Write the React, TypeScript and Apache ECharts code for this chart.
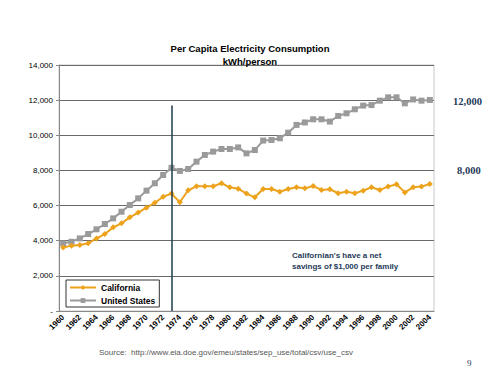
import React, { useEffect, useRef } from "react";
import * as echarts from "echarts";

const years: string[] = [
  "1960","1961","1962","1963","1964","1965","1966","1967","1968","1969",
  "1970","1971","1972","1973","1974","1975","1976","1977","1978","1979",
  "1980","1981","1982","1983","1984","1985","1986","1987","1988","1989",
  "1990","1991","1992","1993","1994","1995","1996","1997","1998","1999",
  "2000","2001","2002","2003","2004",
];

const california: number[] = [
  3610, 3720, 3760, 3850, 4130, 4380, 4760, 4990, 5330, 5600,
  5880, 6160, 6500, 6680, 6190, 6870, 7100, 7100, 7100, 7270,
  7040, 6960, 6680, 6470, 6940, 6940, 6790, 6940, 7040, 6980,
  7110, 6890, 6930, 6700, 6790, 6700, 6850, 7040, 6890, 7080,
  7210, 6750, 7040, 7080, 7230,
];

const unitedStates: number[] = [
  3850, 3940, 4130, 4380, 4650, 4950, 5270, 5650, 6030, 6410,
  6850, 7270, 7740, 8150, 7970, 8080, 8500, 8880, 9070, 9220,
  9220, 9310, 8970, 9160, 9700, 9730, 9830, 10150, 10590, 10730,
  10910, 10910, 10780, 11100, 11250, 11480, 11690, 11720, 11970, 12160,
  12160, 11820, 12040, 11970, 12010,
];

const markerYear = "1973";
const markerTop = 11700;

const rightLabels: string[] = ["12,000", "8,000"];
const noteLines: string[] = ["Californian's have a net", "savings of $1,000 per family"];
const sourceText = "Source:  http://www.eia.doe.gov/emeu/states/sep_use/total/csv/use_csv";

export default function App() {
  const ref = useRef<HTMLDivElement>(null);

  useEffect(() => {
    if (!ref.current) return;
    const chart = echarts.init(ref.current, undefined, { renderer: "svg" });
    const sans = "'Liberation Sans', Arial, sans-serif";
    const serif = "'Liberation Serif', 'Times New Roman', serif";
    chart.setOption({
      animation: false,
      backgroundColor: "#ffffff",
      title: {
        text: "Per Capita Electricity Consumption\nkWh/person",
        left: "center",
        top: 37,
        textStyle: {
          fontFamily: sans,
          fontSize: 9.5,
          fontWeight: "bold",
          color: "#000",
          lineHeight: 13,
          align: "center",
        },
      },
      grid: {
        left: 59,
        right: 66,
        top: 65,
        bottom: 64,
        show: true,
        borderColor: "#c8c8c8",
        borderWidth: 1,
      },
      legend: {
        orient: "vertical",
        left: 66,
        top: 280,
        itemWidth: 26,
        itemHeight: 6,
        itemGap: 4,
        padding: [3, 4, 2, 3],
        borderColor: "#333",
        borderWidth: 1,
        backgroundColor: "#fff",
        textStyle: { fontFamily: sans, fontSize: 8.5, fontWeight: "bold", color: "#000" },
        data: ["California", "United States"],
      },
      xAxis: {
        type: "category",
        data: years,
        boundaryGap: true,
        axisLine: { lineStyle: { color: "#888", width: 1 } },
        axisTick: { interval: 0, length: 3, lineStyle: { color: "#888" } },
        axisLabel: {
          interval: 1,
          rotate: 45,
          fontFamily: sans,
          fontSize: 8,
          fontWeight: "bold",
          color: "#000",
          margin: 5,
        },
        splitLine: { show: false },
      },
      yAxis: {
        type: "value",
        min: 0,
        max: 14000,
        interval: 2000,
        axisLine: { show: true, lineStyle: { color: "#888" } },
        axisTick: { show: true, length: 3, lineStyle: { color: "#888" } },
        axisLabel: {
          fontFamily: sans,
          fontSize: 8,
          color: "#000",
          margin: 6,
          formatter: (v: number) => (v === 0 ? "-" : v.toLocaleString("en-US")),
        },
        splitLine: { show: true, lineStyle: { color: "#6a6a6a", width: 1 } },
      },
      series: [
        {
          name: "California",
          type: "line",
          data: california,
          symbol: "diamond",
          symbolSize: 6,
          showAllSymbol: true,
          itemStyle: { color: "#EDA21C" },
          lineStyle: { color: "#EDA21C", width: 2 },
          z: 3,
        },
        {
          name: "United States",
          type: "line",
          data: unitedStates,
          symbol: "rect",
          symbolSize: 6,
          showAllSymbol: true,
          itemStyle: { color: "#9a9a9a" },
          lineStyle: { color: "#9a9a9a", width: 2 },
          z: 2,
          markLine: {
            silent: true,
            symbol: ["none", "none"],
            label: { show: false },
            lineStyle: { color: "#1d3c4c", width: 1.5, type: "solid" },
            data: [[{ coord: [markerYear, 0] }, { coord: [markerYear, markerTop] }]],
          },
        },
      ],
      graphic: [
        {
          type: "text",
          left: 453,
          top: 96,
          style: { text: rightLabels[0], fontFamily: serif, fontSize: 10.5, fontWeight: "bold", fill: "#1f3a5a" },
        },
        {
          type: "text",
          left: 457,
          top: 165,
          style: { text: rightLabels[1], fontFamily: serif, fontSize: 10.5, fontWeight: "bold", fill: "#1f3a5a" },
        },
        {
          type: "text",
          left: 292,
          top: 250,
          style: {
            text: noteLines.join("\n"),
            fontFamily: sans,
            fontSize: 8,
            fontWeight: "bold",
            lineHeight: 11,
            fill: "#1f3a5a",
          },
        },
        {
          type: "text",
          left: 99,
          top: 348,
          style: { text: sourceText, fontFamily: sans, fontSize: 8, fill: "#555" },
        },
        {
          type: "text",
          left: 467,
          top: 358,
          style: { text: "9", fontFamily: serif, fontSize: 9, fill: "#1f3a5a" },
        },
      ],
    });
    return () => chart.dispose();
  }, []);

  return <div ref={ref} style={{ width: 500, height: 375, position: "absolute", left: 0, top: 0 }} />;
}
